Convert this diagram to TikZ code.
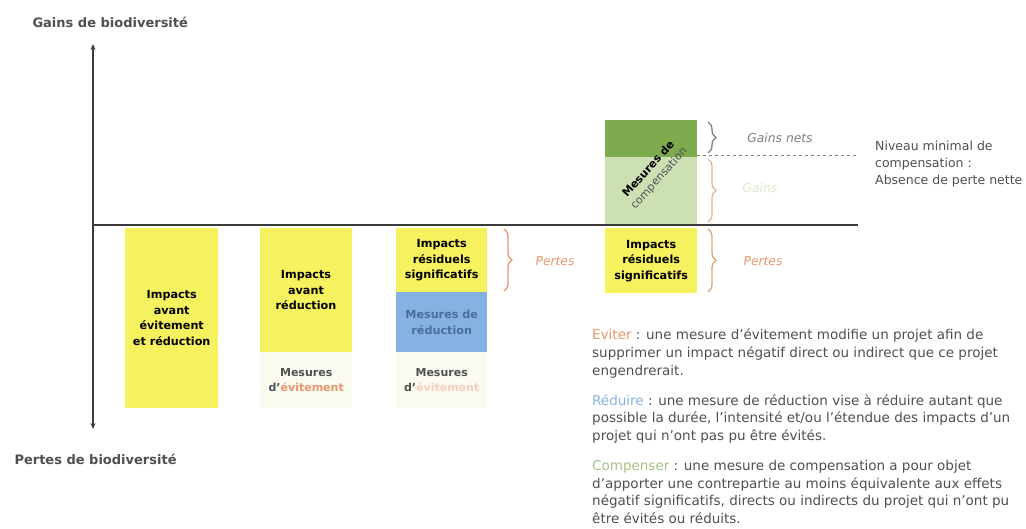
\documentclass[tikz,border=0pt]{standalone}
\usepackage{fontspec}
\setmainfont{DejaVu Sans}
\usetikzlibrary{arrows.meta,decorations.pathreplacing}
\definecolor{yel}{HTML}{F6F15E}
\definecolor{blu}{HTML}{86B2E3}
\definecolor{bluetxt}{HTML}{4A6E9A}
\definecolor{dgreen}{HTML}{7DAB4E}
\definecolor{lgreen}{HTML}{CCE0B4}
\definecolor{orng}{HTML}{E9966C}
\definecolor{tan}{HTML}{D8A77A}
\definecolor{txtgray}{HTML}{505050}
\definecolor{faint}{HTML}{FBFAF0}
\definecolor{axisgray}{HTML}{3C3C3C}
\tikzset{
  box/.style={anchor=north west, inner sep=0pt, draw=none, align=center,
    font=\fontsize{11.2}{15.5}\selectfont\bfseries, text=black},
  lbl/.style={font=\fontsize{13}{16}\selectfont\bfseries, text=txtgray},
  brc/.style={decorate, decoration={brace, amplitude=8pt}, line width=1.3pt},
  itl/.style={font=\fontsize{12.3}{14}\selectfont\itshape},
  mes/.style={anchor=north west, inner sep=0pt, align=center, fill=faint,
    font=\fontsize{11}{15.5}\selectfont\bfseries, text=txtgray}
}
\begin{document}
\begin{tikzpicture}[x=1pt,y=-1pt]
\useasboundingbox[fill=white] (0,0) rectangle (1026,529);

% axes
\coordinate (ytop) at (93,44);
\coordinate (ybot) at (93,429);
\coordinate (xl) at (93,225);
\coordinate (xr) at (858,225);

% boxes
\node[box, fill=yel, minimum width=93pt, minimum height=180pt] (b1) at (125,228)
  {Impacts\\avant\\évitement\\et réduction};
\node[box, fill=yel, minimum width=92pt, minimum height=124pt] (b2) at (260,228) {};
\node[box, anchor=center] (b2t) at (306,290) {Impacts\\avant\\réduction};
\node[mes, minimum width=92pt, minimum height=56pt] (m2) at (260,352)
  {Mesures\\d’\textcolor{orng}{évitement}};

\node[box, fill=yel, minimum width=91pt, minimum height=64pt] (b3) at (396,228)
  {Impacts\\résiduels\\significatifs};
\node[box, fill=blu, minimum width=91pt, minimum height=60pt, text=bluetxt] (r3) at (396,292)
  {Mesures de\\réduction};
\node[mes, minimum width=91pt, minimum height=56pt] (m3) at (396,352)
  {Mesures\\d’\textcolor{orng!45}{évitement}};

\node[box, fill=yel, minimum width=92pt, minimum height=65pt] (b4) at (605,228)
  {Impacts\\résiduels\\significatifs};
\node[box, fill=lgreen, minimum width=92pt, minimum height=68pt] (g4) at (605,157) {};
\node[box, fill=dgreen, minimum width=92pt, minimum height=37pt] (n4) at (605,120) {};
\node[rotate=48, align=center, inner sep=0pt, font=\fontsize{11}{14}\selectfont\bfseries]
  (comp) at (654,174) {Mesures de\\{\mdseries\textcolor{txtgray}{compensation}}};

% axes drawn on top
\draw[line width=2.6pt, axisgray] (xl) -- (xr);
\draw[line width=1.6pt, axisgray, {Stealth[length=6pt,width=5pt]}-{Stealth[length=6pt,width=5pt]}] (ytop) -- (ybot);

% dashed level line
\coordinate (dl) at (697,155);
\coordinate (dr) at (856,155);
\draw[dashed, line width=0.9pt, gray] (dl) -- (dr);

% braces
\coordinate (br3a) at (504,229); \coordinate (br3b) at (504,291);
\draw[brc, orng] (br3a) -- (br3b);
\coordinate (br4a) at (708,229); \coordinate (br4b) at (708,292);
\draw[brc, tan] (br4a) -- (br4b);
\coordinate (bgna) at (708,122); \coordinate (bgnb) at (708,153);
\draw[brc, gray] (bgna) -- (bgnb);
\coordinate (bga) at (708,159); \coordinate (bgb) at (708,222);
\draw[brc, tan!80] (bga) -- (bgb);

% brace labels
\node[itl, text=orng] (p3) at (555,261) {Pertes};
\node[itl, text=orng] (p4) at (763,261) {Pertes};
\node[itl, text=gray] (gn) at (780,138) {Gains nets};
\node[itl, text=lgreen!70] (gg) at (760,188) {Gains};

% axis labels
\node[lbl, anchor=west] (gl) at (29,22) {Gains de biodiversité};
\node[lbl, anchor=west] (pl) at (11,459) {Pertes de biodiversité};

% niveau
\node[anchor=north west, align=left, inner sep=0pt, text=txtgray,
  font=\fontsize{12.5}{17}\selectfont] (niv) at (875,141)
  {Niveau minimal de\\compensation :\\Absence de perte nette};

% definitions
\node[anchor=north west, align=left, inner sep=0pt, text=txtgray,
  font=\fontsize{13.5}{17.6}\selectfont] (defs) at (592,329)
  {\textcolor{orng}{Eviter} : une mesure d’évitement modifie un projet afin de\\
   supprimer un impact négatif direct ou indirect que ce projet\\
   engendrerait.\\[12.5pt]
   \textcolor{blu}{Réduire} : une mesure de réduction vise à réduire autant que\\
   possible la durée, l’intensité et/ou l’étendue des impacts d’un\\
   projet qui n’ont pas pu être évités.\\[12.5pt]
   \textcolor{dgreen!70}{Compenser} : une mesure de compensation a pour objet\\
   d’apporter une contrepartie au moins équivalente aux effets\\
   négatif significatifs, directs ou indirects du projet qui n’ont pu\\
   être évités ou réduits.};
\end{tikzpicture}
\end{document}
